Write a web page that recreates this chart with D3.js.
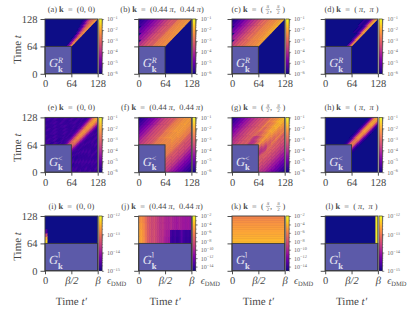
<!DOCTYPE html>
<html>
<head>
<meta charset="utf-8">
<script src="https://cdn.jsdelivr.net/npm/d3@7"></script>
<style>
html, body { margin: 0; padding: 0; background: #fff; }
svg { display: block; }
text { font-family: "Liberation Serif", serif; font-weight: 400; fill: #484848; text-rendering: geometricPrecision; }
</style>
</head>
<body>
<div id="chart"></div>
<script>
// upper edges of the bands are the next entry, t - t' in time steps
const offsetEdges = [0, 4, 8, 12, 16, 20, 24, 28, 32, 36, 40, 48, 56, 64, 72, 80, 88, 96, 104, 112, 120, 128];

// log10 of the spectral function. rows go bottom (t=64) to top (t=128), columns follow offsetEdges
const valuesA = [
	[-2.2, -3.6, -5.0],
	[-2.2, -3.0, -4.6],
	[-2.2, -2.9, -4.2, -5.4],
	[-2.2, -2.7, -3.6, -4.8],
	[-2.1, -2.6, -3.2, -4.2, -5.4],
	[-2.1, -2.5, -2.9, -3.6, -4.8, -5.5],
	[-2.1, -2.4, -2.8, -3.3, -4.0, -5.0, -5.6],
	[-2.1, -2.4, -2.7, -3.0, -3.5, -4.2, -5.2, -5.7]
];
const valuesB = [
	[-2.2, -2.25, -2.3, -2.35, -2.4, -2.45, -2.5, -2.6, -3.0, -3.05, -3.1, -3.3, -3.6, -3.9],
	[-2.15, -2.2, -2.25, -2.3, -2.35, -2.4, -2.45, -2.55, -3.0, -3.05, -3.15, -3.35, -3.65, -4.0, -4.25, -4.5],
	[-2.1, -2.15, -2.2, -2.25, -2.3, -2.35, -2.45, -2.55, -3.0, -3.1, -3.2, -3.4, -3.7, -4.0, -4.25, -4.5, -4.8, -5.1],
	[-2.1, -2.15, -2.2, -2.25, -2.3, -2.35, -2.45, -2.55, -3.05, -3.1, -3.2, -3.4, -3.7, -4.0, -4.25, -4.5, -4.8, -5.1, -5.4, -5.6, -5.8]
];
const valuesC = [
	[-2.0, -2.1, -2.2, -2.3, -2.35, -2.4, -2.45, -2.5, -2.55, -2.8, -2.95, -3.1, -3.4, -3.7],
	[-1.85, -1.95, -2.05, -2.15, -2.25, -2.3, -2.35, -2.4, -2.45, -2.7, -2.85, -3.1, -3.4, -3.7, -4.0, -4.3],
	[-1.75, -1.85, -2.0, -2.1, -2.2, -2.3, -2.35, -2.4, -2.45, -2.7, -2.85, -3.1, -3.4, -3.7, -4.0, -4.3, -4.6, -5.0],
	[-1.7, -1.85, -2.0, -2.1, -2.2, -2.3, -2.35, -2.4, -2.45, -2.7, -2.85, -3.1, -3.4, -3.7, -4.0, -4.3, -4.6, -5.0, -5.3, -5.6, -5.9]
];
const valuesD = [
	[-2.2, -3.2, -5.0],
	[-2.0, -2.6, -4.4, -5.5],
	[-1.9, -2.3, -3.6, -5.0, -5.6, -5.9, -5.7],
	[-1.8, -2.2, -3.0, -4.4, -5.4, -5.7, -5.8, -5.6]
];
const valuesE = [
	[-2.8, -3.0, -3.7, -4.6, -5.2, -5.5, -5.6, -5.4, -5.7, -5.5, -5.4, -5.7, -5.5, -5.4, -5.6, -5.6, -5.4, -5.6, -5.5, -5.4, -5.6],
	[-2.5, -2.8, -3.5, -4.4, -5.1, -5.4, -5.5, -5.6, -5.4, -5.6, -5.7, -5.4, -5.6, -5.4, -5.6, -5.5, -5.4, -5.6, -5.7, -5.4, -5.6],
	[-2.3, -2.7, -3.4, -4.3, -5.0, -5.5, -5.6, -5.4, -5.6, -5.4, -5.6, -5.6, -5.4, -5.6, -5.6, -5.4, -5.6, -5.4, -5.6, -5.6, -5.4],
	[-2.2, -2.6, -3.3, -4.2, -4.9, -5.4, -5.5, -5.4, -5.6, -5.6, -5.4, -5.6, -5.6, -5.4, -5.5, -5.6, -5.6, -5.4, -5.6, -5.6, -5.4],
	[-2.2, -2.5, -3.2, -4.1, -4.9, -5.3, -5.6, -5.6, -5.4, -5.6, -5.6, -5.4, -5.6, -5.6, -5.4, -5.6, -5.4, -5.6, -5.4, -5.6, -5.6],
	[-2.1, -2.4, -3.1, -4.0, -4.8, -5.4, -5.4, -5.6, -5.5, -5.4, -5.6, -5.6, -5.4, -5.5, -5.6, -5.4, -5.6, -5.6, -5.4, -5.5, -5.6],
	[-2.0, -2.3, -3.0, -3.9, -4.7, -5.3, -5.5, -5.4, -5.6, -5.6, -5.4, -5.5, -5.6, -5.6, -5.4, -5.6, -5.4, -5.5, -5.6, -5.6, -5.4],
	[-1.9, -2.3, -2.9, -3.8, -4.7, -5.3, -5.6, -5.6, -5.4, -5.6, -5.4, -5.6, -5.4, -5.6, -5.4, -5.6, -5.6, -5.4, -5.6, -5.4, -5.6]
];
const valuesF = [
	[-2.3, -2.3, -2.35, -2.4, -2.45, -2.5, -2.6, -2.6, -2.95, -3.05, -3.25, -3.4, -3.6, -3.85, -4.2, -4.5, -4.8, -5.1, -5.4, -5.6, -5.8],
	[-2.15, -2.2, -2.2, -2.3, -2.35, -2.45, -2.55, -2.55, -2.9, -3.05, -3.2, -3.35, -3.55, -3.85, -4.2, -4.5, -4.8, -5.1, -5.4, -5.6, -5.8],
	[-2.1, -2.1, -2.15, -2.2, -2.3, -2.4, -2.5, -2.5, -2.85, -3.0, -3.2, -3.35, -3.5, -3.8, -4.2, -4.5, -4.8, -5.1, -5.4, -5.6, -5.8],
	[-2.05, -2.1, -2.15, -2.2, -2.3, -2.4, -2.5, -2.5, -2.85, -3.0, -3.2, -3.35, -3.5, -3.8, -4.2, -4.5, -4.8, -5.1, -5.4, -5.6, -5.8]
];
const valuesG = [
	[-2.2, -2.7, -3.0, -3.5, -3.7, -3.8, -3.7, -3.2, -3.0, -3.1, -3.2, -3.4, -3.6, -3.8, -4.0, -4.3, -4.6, -4.9, -5.2, -5.5, -5.8],
	[-2.1, -2.4, -2.6, -3.0, -3.3, -3.6, -3.7, -3.5, -3.0, -3.0, -3.15, -3.35, -3.55, -3.75, -4.0, -4.3, -4.6, -4.9, -5.2, -5.5, -5.8],
	[-2.0, -2.2, -2.4, -2.6, -2.8, -3.0, -3.1, -2.8, -2.8, -3.0, -3.1, -3.3, -3.5, -3.7, -4.0, -4.3, -4.6, -4.9, -5.2, -5.5, -5.8],
	[-1.9, -2.0, -2.2, -2.4, -2.6, -2.8, -2.9, -2.5, -2.8, -3.0, -3.1, -3.3, -3.5, -3.7, -4.0, -4.3, -4.6, -4.9, -5.2, -5.5, -5.8],
	[-1.8, -1.9, -2.1, -2.3, -2.45, -2.6, -2.7, -2.4, -2.8, -3.0, -3.1, -3.3, -3.5, -3.7, -4.0, -4.3, -4.6, -4.9, -5.2, -5.5, -5.8],
	[-1.7, -1.8, -1.95, -2.1, -2.25, -2.4, -2.5, -2.4, -2.8, -3.0, -3.1, -3.3, -3.5, -3.7, -4.0, -4.3, -4.6, -4.9, -5.2, -5.5, -5.8]
];
const valuesH = [
	[-2.5, -2.9, -4.0, -5.2, -5.8],
	[-2.2, -2.6, -3.7, -4.9, -5.7],
	[-2.0, -2.4, -3.4, -4.6, -5.6],
	[-1.9, -2.3, -3.3, -4.5, -5.6]
];

// bottom row of panels: rows go t=64 to t=128, columns go t'=0 to t'=beta
const valuesI = [
	[-12.2], [-12.5], [-13.4], [-14.6], [], [], [], []
];
const valuesJ = [
	[-4.5, -4.7, -5.4, -6.4, -7.4, -7.9, -8.3, -8.0, -8.6, -9.0, -9.5, -9.5, -10.2, -10.4, -10.6, -13.8, -14.0, -13.7, -14.1, -13.9, -13.0, -13.8, -14.0, -13.9, -14.1],
	[-4.6, -4.8, -5.5, -6.5, -7.4, -7.9, -8.3, -8.0, -8.6, -9.0, -9.5, -9.4, -10.0, -10.2, -10.4, -13.6, -13.9, -13.6, -14.0, -13.8, -12.9, -13.7, -13.9, -13.8, -14.0],
	[-4.9, -5.1, -5.7, -6.6, -7.5, -8.0, -8.4, -8.1, -8.6, -9.0, -9.5, -9.3, -9.8, -9.9, -10.0, -9.7, -10.2, -10.3, -10.5, -10.1, -10.4, -10.6, -10.7, -10.5, -10.8],
	[-5.2, -5.4, -5.9, -6.7, -7.6, -8.0, -8.4, -8.1, -8.6, -9.0, -9.5, -9.3, -9.8, -9.9, -10.0, -9.7, -10.2, -10.3, -10.5, -10.1, -10.4, -10.6, -10.7, -10.5, -10.8]
];
const valuesK = [
	[-3.95], [-4.1], [-4.25], [-4.4], [-4.55], [-4.7], [-4.85], [-5.0], [-5.2], [-5.4], [-5.6], [-5.9]
];
const valuesL = [
	[-15, -15, -15, -15, -15, -15, -15, -15, -15, -15, -15, -15, -15, -15, -15, -15, -15, -15, -15, -15, -15, -15, -15, -15, -12.1]
];

// colorbar decades, top to bottom
const cbarTicksSpectral = [-1, -2, -3, -4, -5, -6];
const cbarTicksErrorI = [-12, -13, -14, -15];
const cbarTicksErrorJ = [-2, -4, -6, -8, -10, -12, -14];

const timeTicks = [0, 64, 128];
const timeLabels = ["0", "64", "128"];
const betaTicks = [0, 0.5, 1];
const betaLabels = ["0", "\u03b2/2", "\u03b2"];

const fracPi2 = { frac: ["\u03c0", "2"] };
const titleZero = [{ t: "  =  (0, 0)" }];
const titlePi44 = [{ t: "  =  (0.44" }, { t: " \u03c0", i: 1 }, { t: ",  0.44" }, { t: " \u03c0", i: 1 }, { t: ")" }];
const titlePi2 = [{ t: "  =  ( " }, fracPi2, { t: ",  " }, fracPi2, { t: " )" }];
const titlePi = [{ t: "  =  ( " }, { t: "\u03c0", i: 1 }, { t: ",  " }, { t: "\u03c0", i: 1 }, { t: " )" }];

const colLeft = [45, 138.7, 232, 325.2];
const rowTop = [19, 117.4, 216];
const plotW = 52.7;
const plotH = 54.8;

const panels = [
	{ id: "a", col: 0, row: 0, values: valuesA, k: titleZero, sup: "R" },
	{ id: "b", col: 1, row: 0, values: valuesB, k: titlePi44, sup: "R" },
	{ id: "c", col: 2, row: 0, values: valuesC, k: titlePi2, sup: "R" },
	{ id: "d", col: 3, row: 0, values: valuesD, k: titlePi, sup: "R" },
	{ id: "e", col: 0, row: 1, values: valuesE, k: titleZero, sup: "<", mirror: true },
	{ id: "f", col: 1, row: 1, values: valuesF, k: titlePi44, sup: "<", mirror: true },
	{ id: "g", col: 2, row: 1, values: valuesG, k: titlePi2, sup: "<", mirror: true },
	{ id: "h", col: 3, row: 1, values: valuesH, k: titlePi, sup: "<", mirror: true },
	{ id: "i", col: 0, row: 2, values: valuesI, k: titleZero, sup: "\u2309", cols: 25, ticks: cbarTicksErrorI },
	{ id: "j", col: 1, row: 2, values: valuesJ, k: titlePi44, sup: "\u2309", cols: 25, ticks: cbarTicksErrorJ, hi: -2, lo: -15 },
	{ id: "k", col: 2, row: 2, values: valuesK, k: titlePi2, sup: "\u2309", cols: 1, ticks: cbarTicksErrorJ, hi: -2, lo: -15 },
	{ id: "l", col: 3, row: 2, values: valuesL, k: titlePi, sup: "\u2309", cols: 25, ticks: cbarTicksErrorI }
];

const svg = d3.select("#chart")
	.append("svg")
	.attr("width", 407)
	.attr("height", 312);

// the reference heatmaps are soft, the cells get a small blur
svg.append("filter").attr("id", "soft")
	.attr("x", "-10%").attr("y", "-10%").attr("width", "120%").attr("height", "120%")
	.append("feGaussianBlur").attr("stdDeviation", 0.5);

const spineColor = "#3a3a3a";

function drawTitle(parent, piece, cx, baseline) {
	const g = parent.append("g");
	let x = 0;
	piece.forEach(p => {
		if (p.frac) {
			const w = 4.2;
			g.append("text").attr("x", x + w / 2).attr("y", baseline - 3.6).attr("text-anchor", "middle")
				.attr("font-size", 5).attr("font-style", "italic").text(p.frac[0]);
			g.append("text").attr("x", x + w / 2).attr("y", baseline + 1.6).attr("text-anchor", "middle")
				.attr("font-size", 5).text(p.frac[1]);
			g.append("line").attr("x1", x).attr("x2", x + w).attr("y1", baseline - 2.6).attr("y2", baseline - 2.6)
				.attr("stroke", "#484848").attr("stroke-width", 0.4);
			x += w;
			return;
		}
		const node = g.append("text").attr("x", x).attr("y", baseline)
			.attr("font-size", 8.4)
			.style("font-weight", p.b ? "bold" : null)
			.attr("font-style", p.i ? "italic" : null)
			.style("white-space", "pre")
			.text(p.t);
		x += node.node().getComputedTextLength();
	});
	g.attr("transform", `translate(${cx - x / 2}, 0)`);
}

function styleAxis(g) {
	g.select(".domain").remove();
	g.selectAll("line").attr("stroke", spineColor).attr("stroke-width", 0.9);
}

panels.forEach(p => {
	const left = colLeft[p.col];
	const top = rowTop[p.row];
	const isError = p.row === 2;
	const lo = p.lo !== undefined ? p.lo : (isError ? -15 : -6);
	const hi = p.hi !== undefined ? p.hi : (isError ? -12 : -1);
	const ticks = p.ticks || cbarTicksSpectral;

	const color = d3.scaleSequential(d3.interpolatePlasma).domain([lo, hi]);
	const x = d3.scaleLinear().domain(isError ? [0, 1] : [0, 128]).range([left, left + plotW]);
	const y = d3.scaleLinear().domain([0, 128]).range([top + plotH, top]);

	const panel = svg.append("g");
	svg.append("clipPath").attr("id", "clip-" + p.id)
		.append("rect")
		.attr("x", left).attr("y", top).attr("width", plotW).attr("height", plotH);

	const cells = panel.append("g").attr("clip-path", `url(#clip-${p.id})`)
		.append("g").attr("filter", "url(#soft)");

	cells.append("rect")
		.attr("x", left - 8).attr("y", top - 8).attr("width", plotW + 16).attr("height", plotH + 16)
		.attr("fill", color(lo));

	const rowBand = d3.scaleLinear().domain([0, p.values.length]).range([64, 128]);
	const lastRow = p.values.length - 1;

	p.values.forEach((row, r) => {
		// first and last row run past the frame so the blur has no edge inside it
		const t0 = r === 0 ? rowBand(r) - 12 : rowBand(r);
		const t1 = r === lastRow ? rowBand(r + 1) + 12 : rowBand(r + 1);
		row.forEach((v, c) => {
			if (v === lo) return;
			if (isError) {
				const colBand = d3.scaleLinear().domain([0, p.cols]).range([0, 1]);
				const cx0 = c === 0 ? x(0) - 8 : x(colBand(c));
				const cx1 = c === p.cols - 1 ? x(1) + 8 : x(colBand(c + 1));
				cells.append("rect")
					.attr("x", cx0)
					.attr("y", y(t1))
					.attr("width", cx1 - cx0)
					.attr("height", y(t0) - y(t1))
					.attr("fill", color(v))
					.attr("stroke", color(v))
					.attr("stroke-width", 0.6);
				return;
			}
			const d0 = offsetEdges[c];
			const d1 = offsetEdges[c + 1];
			const corners = [[t0 - d0, t0], [t0 - d1, t0], [t1 - d1, t1], [t1 - d0, t1]];
			const shapes = p.mirror ? [corners, corners.map(q => [q[1], q[0]])] : [corners];
			shapes.forEach(shape => {
				cells.append("path")
					.attr("d", d3.line().x(q => x(q[0])).y(q => y(q[1]))(shape) + "Z")
					.attr("fill", color(v))
					.attr("stroke", color(v))
					.attr("stroke-width", 0.5);
			});
		});
	});

	// the part of the contour that is not used for the fit
	panel.append("rect")
		.attr("x", x(0))
		.attr("y", y(64))
		.attr("width", isError ? plotW : x(64) - x(0))
		.attr("height", y(0) - y(64))
		.attr("fill", "#5c5aa9")
		.attr("stroke", spineColor)
		.attr("stroke-width", 0.9);

	panel.append("rect")
		.attr("x", left).attr("y", top).attr("width", plotW).attr("height", plotH)
		.attr("fill", "none")
		.attr("stroke", spineColor)
		.attr("stroke-width", 0.9);

	const labelX = left + 4;
	const isCeil = p.sup === "\u2309";
	panel.append("text").attr("x", labelX).attr("y", top + 48.3)
		.attr("font-size", 12.5).attr("font-style", "italic").style("fill", "#e6e6f2").text("G");
	panel.append("text").attr("x", labelX + (isCeil ? 8.5 : 9)).attr("y", top + (isCeil ? 41 : 43.5))
		.attr("font-size", isCeil ? 6.5 : 8).attr("font-style", p.sup === "R" ? "italic" : null)
		.style("fill", "#e6e6f2")
		.style("font-family", isCeil ? "DejaVu Sans" : null)
		.text(p.sup);
	panel.append("text").attr("x", labelX + 9).attr("y", top + 53)
		.attr("font-size", 8.5).style("font-weight", "bold").style("fill", "#e6e6f2").text("k");

	drawTitle(panel, [{ t: `(${p.id}) ` }, { t: "k", b: 1 }].concat(p.k),
		left + plotW / 2 - (p.k === titlePi44 ? 3 : 0), top - 7);

	// axes
	const xAxis = d3.axisBottom(x)
		.tickValues(isError ? betaTicks : timeTicks)
		.tickSize(3.5)
		.tickPadding(2.5)
		.tickFormat((d, i) => isError ? betaLabels[i] : timeLabels[i]);
	const xG = panel.append("g")
		.attr("transform", `translate(0, ${top + plotH})`)
		.call(xAxis);
	styleAxis(xG);
	xG.selectAll("text").attr("font-size", 10.5)
		.attr("font-style", d => isError && d > 0 ? "italic" : null);

	const yAxis = d3.axisLeft(y)
		.tickValues(timeTicks)
		.tickSize(4.5)
		.tickPadding(3)
		.tickFormat((d, i) => p.col === 0 ? timeLabels[i] : "");
	const yG = panel.append("g")
		.attr("transform", `translate(${left}, 0)`)
		.call(yAxis);
	styleAxis(yG);
	yG.selectAll("text").attr("font-size", 10.5);

	// colorbar
	const barLeft = left + plotW + 1.1;
	const barScale = d3.scaleLog().domain([Math.pow(10, lo), Math.pow(10, hi)]).range([top + plotH, top]);
	const barExp = d3.scaleLinear().domain([lo, hi]).range([top + plotH, top]);
	const stepCount = 55;
	const barSteps = d3.range(stepCount).map(i => lo + (hi - lo) * (i + 0.5) / stepCount);
	panel.append("g").selectAll("rect")
		.data(barSteps)
		.enter()
		.append("rect")
		.attr("x", barLeft)
		.attr("y", d => barExp(d) - plotH / stepCount / 2 - 0.2)
		.attr("width", 3.3)
		.attr("height", plotH / stepCount + 0.4)
		.style("fill", d => color(d));
	panel.append("rect")
		.attr("x", barLeft).attr("y", top).attr("width", 3.3).attr("height", plotH)
		.attr("fill", "none").attr("stroke", "#333").attr("stroke-width", 0.6);

	const minorG = panel.append("g")
		.attr("transform", `translate(${barLeft + 3.3}, 0)`)
		.call(d3.axisRight(barScale).tickValues(hi - lo > 6 ? d3.range(lo, hi + 1).map(e => Math.pow(10, e)) : barScale.ticks()).tickSize(1).tickFormat(""));
	styleAxis(minorG);
	minorG.selectAll("line").attr("stroke-width", 0.4);

	const majorG = panel.append("g")
		.attr("transform", `translate(${barLeft + 3.3}, 0)`)
		.call(d3.axisRight(barScale).tickValues(ticks.map(e => Math.pow(10, e))).tickSize(2).tickPadding(3).tickFormat(""));
	styleAxis(majorG);
	majorG.selectAll("line").attr("stroke-width", 0.5);
	majorG.selectAll("text").each(function (d) {
		const label = d3.select(this).attr("font-size", 6).style("fill", "#666");
		label.append("tspan").text("10");
		label.append("tspan").attr("font-size", 4.3).attr("dy", -2.2).text("\u2212" + Math.round(-Math.log10(d)));
	});

	if (isError) {
		const eps = panel.append("text")
			.attr("x", left + plotW + 9.3)
			.attr("y", top + plotH + 13.5);
		eps.append("tspan").attr("font-size", 10).attr("font-style", "italic").text("\u03f5");
		eps.append("tspan").attr("font-size", 6.5).attr("dy", 1.5).text("DMD");

		const bottom = panel.append("text")
			.attr("x", left + plotW / 2)
			.attr("y", top + plotH + 34)
			.attr("text-anchor", "middle")
			.attr("font-size", 11);
		bottom.append("tspan").text("Time ");
		bottom.append("tspan").attr("font-style", "italic").text("t\u2032");
	}

	if (p.col === 0) {
		const side = panel.append("text")
			.attr("transform", `translate(21, ${top + plotH / 2 + 3}) rotate(-90)`)
			.attr("text-anchor", "middle")
			.attr("font-size", 11);
		side.append("tspan").text("Time ");
		side.append("tspan").attr("font-style", "italic").text("t");
	}
});
</script>
</body>
</html>
